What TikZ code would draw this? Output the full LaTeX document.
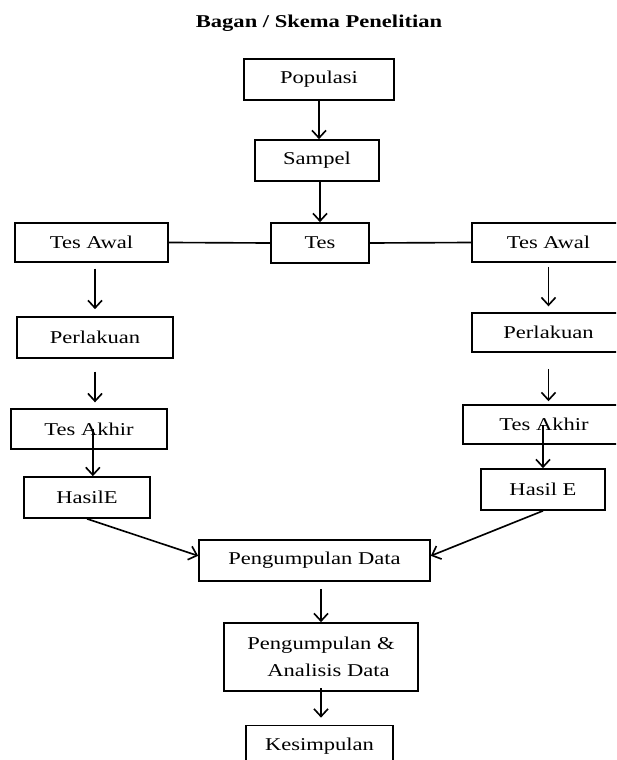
\documentclass[tikz,border=0pt]{standalone}
\usepackage{fontspec}
\setmainfont{Liberation Serif}[FakeStretch=1.25]
\usetikzlibrary{arrows.meta}

\tikzset{
  box/.style={draw=black,line width=1.4pt,inner sep=0pt,align=center},
  arr/.style={-{Straight Barb[length=6.5pt,width=12pt]},line width=1.4pt},
  link/.style={line width=1.4pt}
}

\begin{document}
\begin{tikzpicture}[x=0.03cm,y=-0.03cm,font=\fontsize{15.4}{23}\selectfont]
\path[use as bounding box] (0,0) rectangle (616,760);
\clip (0,0) rectangle (616,760);
\node[font=\fontsize{15.4}{23}\selectfont\bfseries,anchor=base] (title) at (319,28) {Bagan / Skema Penelitian};
% middle column
\node[box,minimum width=4.5cm,minimum height=1.23cm] (pop) at (319,79.5) {Populasi};
\node[box,minimum width=3.72cm,minimum height=1.23cm] (sam) at (317,160.5) {Sampel};
\node[box,minimum width=2.94cm,minimum height=1.2cm] (tes) at (320,243) {Tes};
% left branch
\node[box,minimum width=4.59cm,minimum height=1.17cm] (awL) at (91.5,242.5) {Tes Awal};
\node[box,minimum width=4.68cm,minimum height=1.23cm] (perL) at (95,337.5) {Perlakuan};
\node[box,minimum width=4.68cm,minimum height=1.2cm] (akhL) at (89,429) {Tes Akhir};
\node[box,minimum width=3.78cm,minimum height=1.23cm] (hasL) at (87,497.5) {HasilE};
% right branch
\node[box,minimum width=4.59cm,minimum height=1.17cm] (awR) at (548.5,242.5) {Tes Awal};
\node[box,minimum width=4.59cm,minimum height=1.17cm] (perR) at (548.5,332.5) {Perlakuan};
\node[box,minimum width=4.86cm,minimum height=1.17cm] (akhR) at (544,424.5) {Tes Akhir};
\node[box,minimum width=3.72cm,minimum height=1.23cm] (hasR) at (543,489.5) {Hasil E};
% bottom
\node[box,minimum width=6.93cm,minimum height=1.23cm] (pd) at (314.5,560.5) {Pengumpulan Data};
\node[box,minimum width=5.82cm,minimum height=2.04cm] (pad) at (321,657) {Pengumpulan \&\\\hspace*{0.45cm}Analisis Data};
\node[box,minimum width=4.41cm,minimum height=1.23cm] (kes) at (319.5,746) {Kesimpulan};

\draw[arr] (pop.south) -- (pop.south |- sam.north);
\draw[arr] (tes.north |- sam.south) -- (tes.north);
\draw[link] (tes.west) -- (awL.east);
\draw[link] (tes.east) -- (awR.west);
\draw[arr,shorten <=5pt,shorten >=6pt] (perL.north |- awL.south) -- (perL.north);
\draw[arr,shorten <=11pt,shorten >=5pt] (perL.south) -- (perL.south |- akhL.north);
\draw[arr] ([xshift=5pt]hasL.north |- akhL.center) -- ([xshift=5pt]hasL.north);
\draw[arr,shorten <=3.4pt,shorten >=5pt] (awR.south) -- (awR.south |- perR.north);
\draw[arr,shorten <=13.7pt,shorten >=2.5pt] (perR.south) -- (perR.south |- akhR.north);
\draw[arr] (hasR.north |- akhR.center) -- (hasR.north);
\draw[arr] (hasL.south) -- ([yshift=4pt]pd.west);
\draw[arr] (hasR.south) -- ([yshift=4pt]pd.east);
\draw[arr,shorten <=6pt] (pad.north |- pd.south) -- (pad.north);
\draw[arr,shorten <=-3pt,shorten >=6pt] (pad.south) -- (pad.south |- kes.north);
\end{tikzpicture}
\end{document}
